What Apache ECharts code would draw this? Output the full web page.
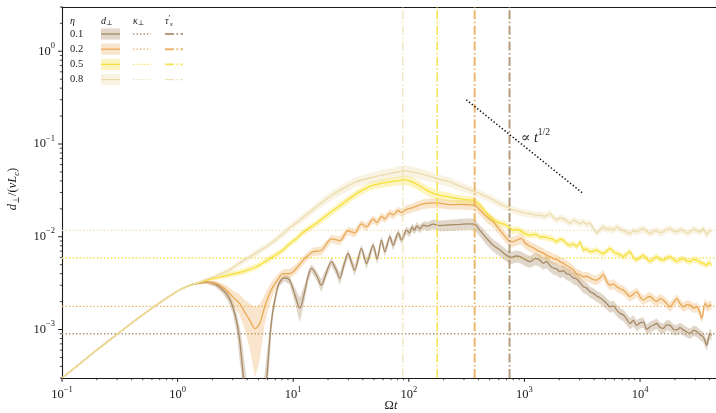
<!DOCTYPE html>
<html>
<head>
<meta charset="utf-8">
<script src="https://cdn.jsdelivr.net/npm/echarts@6/dist/echarts.min.js"></script>
<style>
html, body { margin: 0; padding: 0; background: #fff; }
#chart { width: 716px; height: 413px; }
</style>
</head>
<body>
<div id="chart"></div>
<script>
// Axis ranges (log-log)
const X_MIN = 0.1, X_MAX = 4.54e4, Y_MIN = 3e-4, Y_MAX = 3;

// Tick values
const X_TICKS_MAJOR = [0.1, 1, 10, 100, 1000, 10000];
const Y_TICKS_MAJOR = [1e-4, 1e-3, 1e-2, 1e-1, 1];
const MINOR_STEPS = [2, 3, 4, 5, 6, 7, 8, 9];

// Per-eta constants
const ETA_LABELS = ['0.1', '0.2', '0.5', '0.8'];
const COLORS = ['#a78a66', '#eaa955', '#f6df3a', '#ecdcac'];
const BAND_ALPHA = [0.34, 0.3, 0.32, 0.34];
const KAPPA_PERP = [9.0e-4, 1.78e-3, 5.9e-3, 1.17e-2];
const TAU_S = [743, 371, 176, 88.7];

// Reference slope guide, two end points
const SLOPE_GUIDE = [[314, 0.30], [3160, 0.0298]];

// d_perp/(v L_c) samples: [Omega t, mean, relative spread]
const SHARED_EARLY = [
  [0.1, 3.0e-4, 0.003], [0.15, 4.5e-4, 0.003], [0.2, 6.0e-4, 0.003], [0.3, 8.9e-4, 0.003],
  [0.4, 1.17e-3, 0.003], [0.5, 1.44e-3, 0.004], [0.7, 1.94e-3, 0.005], [1.0, 2.6e-3, 0.008],
  [1.2, 2.9e-3, 0.012], [1.4, 3.1e-3, 0.02]
];

const D_ETA_01 = [
  [1.77, 3.25e-3, .04], [2.1, 3.1e-3, .06], [2.47, 2.66e-3, .09], [2.75, 2.25e-3, .12], [3.0, 1.76e-3, .15],
  [3.25, 1.2e-3, .25], [3.44, 7.7e-4, .4], [3.6, 4.5e-4, .7], [3.75, 2.5e-4, 1], [3.95, 1e-4, 1],
  [4.3, 3e-5, 1], [5.2, 3e-5, 1], [5.6, 1e-4, 1], [5.8, 2.2e-4, 1], [5.93, 3.2e-4, .8],
  [6.1, 5e-4, .5], [6.26, 7.7e-4, .35], [6.5, 1.25e-3, .22], [6.77, 1.76e-3, .15], [7.2, 2.6e-3, .1],
  [7.6, 3.2e-3, .08], [8.4, 3.6e-3, .08], [9.3, 3.4e-3, .1], [10.3, 2.4e-3, .18], [11.4, 1.7e-3, .3],
  [12.6, 2.6e-3, .2], [13.5, 3.8e-3, .13], [14.4, 4.6e-3, .1], [16.0, 3.8e-3, .12], [17.5, 3.0e-3, .16],
  [19.5, 4.2e-3, .12], [21.4, 5.4e-3, .1], [23.5, 4.4e-3, .12], [25.3, 3.55e-3, .15], [27.5, 5.0e-3, .12],
  [29.8, 6.6e-3, .1], [34, 4.37e-3, .14], [38.9, 7.5e-3, .1], [43, 5.15e-3, .13], [49.1, 8.1e-3, .1],
  [53.2, 5.75e-3, .13], [58, 9.2e-3, .1], [62, 6.9e-3, .12], [68.5, 1.0e-2, .1], [73.2, 8.1e-3, .12],
  [80.9, 1.1e-2, .1], [86.5, 9.2e-3, .11], [95.5, 1.18e-2, .1], [101, 1.1e-2, .1], [107, 1.27e-2, .1],
  [112, 1.18e-2, .1], [117, 1.3e-2, .1], [125, 1.22e-2, .1], [133, 1.33e-2, .1], [145, 1.3e-2, .11],
  [162, 1.37e-2, .12], [185, 1.32e-2, .13], [226, 1.34e-2, .14], [277, 1.36e-2, .14], [330, 1.38e-2, .14],
  [370, 1.37e-2, .14], [412, 1.17e-2, .14], [471, 9.6e-3, .15], [537, 8.1e-3, .15], [614, 7.2e-3, .15],
  [701, 6.3e-3, .15], [775, 6.0e-3, .15], [850, 6.2e-3, .15], [915, 6.1e-3, .15], [1010, 5.7e-3, .15],
  [1117, 5.4e-3, .15], [1240, 5.8e-3, .15], [1362, 5.6e-3, .15], [1450, 5.2e-3, .15], [1556, 5.4e-3, .15],
  [1660, 4.9e-3, .15], [1776, 4.6e-3, .15], [1900, 4.5e-3, .15], [2028, 4.2e-3, .15], [2170, 4.3e-3, .15],
  [2318, 4.0e-3, .15], [2480, 3.9e-3, .15], [2646, 3.6e-3, .15], [2830, 3.5e-3, .15], [3025, 3.2e-3, .15],
  [3228, 2.9e-3, .15], [3450, 2.8e-3, .15], [3690, 2.55e-3, .14], [3950, 2.45e-3, .14], [4217, 2.3e-3, .14],
  [4500, 2.2e-3, .14], [4811, 2.07e-3, .14], [5150, 1.9e-3, .14], [5500, 1.76e-3, .14], [5870, 1.8e-3, .14],
  [6280, 1.62e-3, .14], [6700, 1.5e-3, .14], [7170, 1.43e-3, .14], [7650, 1.3e-3, .14], [8180, 1.16e-3, .14],
  [8750, 1.25e-3, .14], [9360, 1.11e-3, .14], [10000, 1.18e-3, .13], [10700, 1.2e-3, .13], [11400, 1.0e-3, .13],
  [12200, 1.07e-3, .13], [13100, 1.12e-3, .13], [13960, 1.16e-3, .13], [14900, 1.05e-3, .13], [15900, 1.03e-3, .13],
  [17000, 1.12e-3, .13], [18200, 1.11e-3, .13], [19500, 1.0e-3, .13], [20800, 9.9e-4, .13], [22200, 1.05e-3, .13],
  [23700, 9.9e-4, .13], [25400, 9.4e-4, .13], [27100, 9.1e-4, .13], [29000, 9.8e-4, .13], [31000, 9.5e-4, .13],
  [33100, 8.8e-4, .13], [35300, 8.3e-4, .13], [37800, 6.8e-4, .14], [39000, 8.0e-4, .13], [40300, 9.1e-4, .13],
  [41500, 8.6e-4, .13]
];

const D_ETA_02 = [
  [1.77, 3.25e-3, .04], [2.2, 3.1e-3, .07], [2.64, 2.66e-3, .12], [3.0, 2.25e-3, .18], [3.44, 1.91e-3, .25],
  [3.8, 1.55e-3, .35], [4.2, 1.26e-3, .5], [4.67, 1.02e-3, .7], [5.13, 1.16e-3, .6], [5.67, 1.76e-3, .35],
  [6.2, 2.4e-3, .25], [6.7, 2.9e-3, .18], [7.4, 3.5e-3, .14], [8.17, 4.0e-3, .12], [9.3, 4.0e-3, .12],
  [10.7, 4.6e-3, .12], [12.2, 5.6e-3, .11], [13.5, 6.3e-3, .1], [14.8, 6.9e-3, .1], [17.5, 7.1e-3, .11],
  [21.4, 9.5e-3, .1], [25.3, 9.1e-3, .11], [29.8, 1.16e-2, .1], [34, 1.1e-2, .11], [38.9, 1.38e-2, .1],
  [43, 1.28e-2, .1], [49.1, 1.55e-2, .1], [53.2, 1.42e-2, .1], [58, 1.66e-2, .1], [62, 1.56e-2, .1],
  [68.5, 1.8e-2, .1], [73.2, 1.72e-2, .1], [80.9, 1.92e-2, .1], [86.5, 1.83e-2, .1], [95.5, 1.97e-2, .11],
  [107, 2.05e-2, .11], [117, 2.14e-2, .12], [133, 2.26e-2, .12], [162, 2.32e-2, .12], [185, 2.3e-2, .12],
  [226, 2.22e-2, .12], [277, 2.23e-2, .12], [330, 2.21e-2, .12], [370, 2.18e-2, .12], [412, 1.94e-2, .12],
  [471, 1.64e-2, .13], [537, 1.45e-2, .13], [614, 1.18e-2, .13], [701, 9.6e-3, .13], [775, 8.8e-3, .13],
  [860, 9.2e-3, .13], [940, 9.6e-3, .13], [1020, 8.5e-3, .13], [1117, 7.9e-3, .13], [1215, 7.5e-3, .13],
  [1362, 6.9e-3, .13], [1450, 6.7e-3, .13], [1556, 6.3e-3, .13], [1660, 6.1e-3, .13], [1776, 5.8e-3, .13],
  [1900, 5.7e-3, .13], [2028, 5.4e-3, .13], [2170, 5.2e-3, .13], [2318, 4.9e-3, .13], [2477, 4.67e-3, .13],
  [2646, 4.4e-3, .12], [2830, 4.0e-3, .12], [3025, 3.9e-3, .12], [3228, 3.7e-3, .12], [3450, 3.75e-3, .12],
  [3690, 3.6e-3, .12], [3950, 3.45e-3, .12], [4217, 3.4e-3, .12], [4500, 3.6e-3, .12], [4811, 3.9e-3, .12],
  [5150, 3.3e-3, .12], [5500, 3.0e-3, .12], [5870, 3.1e-3, .12], [6280, 2.9e-3, .12], [6700, 2.75e-3, .12],
  [7170, 2.66e-3, .12], [7650, 2.45e-3, .12], [8180, 2.27e-3, .12], [8750, 2.4e-3, .12], [9360, 2.55e-3, .12],
  [10000, 2.25e-3, .12], [10700, 2.07e-3, .12], [11400, 2.2e-3, .12], [12200, 2.27e-3, .12], [13100, 2.1e-3, .12],
  [13960, 2.0e-3, .12], [14900, 2.15e-3, .12], [15900, 2.07e-3, .12], [17000, 1.9e-3, .12], [18200, 1.76e-3, .12],
  [19500, 1.95e-3, .12], [20800, 2.15e-3, .12], [22200, 1.9e-3, .12], [23700, 1.76e-3, .12], [25400, 1.85e-3, .12],
  [27100, 1.84e-3, .12], [29000, 1.7e-3, .12], [31000, 1.76e-3, .12], [32500, 1.6e-3, .12], [34200, 1.32e-3, .12],
  [36500, 1.91e-3, .12], [38500, 1.75e-3, .12], [40300, 1.84e-3, .12], [41500, 1.8e-3, .12]
];

const D_ETA_05 = [
  [1.7, 3.35e-3, .03], [2.16, 3.6e-3, .05], [2.82, 3.9e-3, .07], [3.68, 4.2e-3, .08], [4.8, 4.75e-3, .08],
  [6.26, 5.8e-3, .08], [8.17, 7.2e-3, .08], [9.3, 8.4e-3, .08], [10.7, 9.6e-3, .08], [12.2, 1.12e-2, .08],
  [15.9, 1.4e-2, .09], [20.7, 1.8e-2, .09], [27, 2.29e-2, .1], [35.3, 2.92e-2, .1], [40, 3.2e-2, .1],
  [45.9, 3.5e-2, .1], [52, 3.65e-2, .1], [59.9, 3.8e-2, .11], [68, 3.9e-2, .11], [78.1, 4.0e-2, .11],
  [92.2, 4.1e-2, .12], [104, 3.95e-2, .12], [116, 3.7e-2, .12], [133, 3.35e-2, .12], [152, 3.05e-2, .12],
  [185, 2.8e-2, .11], [226, 2.68e-2, .11], [270, 2.57e-2, .1], [316, 2.5e-2, .1], [360, 2.49e-2, .1],
  [412, 2.2e-2, .1], [471, 1.78e-2, .1], [537, 1.52e-2, .09], [614, 1.4e-2, .09], [701, 1.33e-2, .09],
  [800, 1.17e-2, .09], [860, 1.2e-2, .09], [915, 1.17e-2, .09], [1010, 1.08e-2, .09], [1117, 1.04e-2, .08],
  [1240, 1.06e-2, .08], [1362, 1.0e-2, .08], [1500, 9.9e-3, .08], [1663, 9.6e-3, .08], [1780, 9.3e-3, .08],
  [1900, 8.8e-3, .08], [2030, 9.4e-3, .08], [2168, 9.2e-3, .08], [2320, 8.4e-3, .08], [2477, 8.1e-3, .08],
  [2650, 8.4e-3, .08], [2830, 7.8e-3, .08], [3025, 8.8e-3, .08], [3228, 7.2e-3, .08], [3450, 7.4e-3, .08],
  [3690, 6.9e-3, .08], [3950, 7.0e-3, .08], [4217, 7.2e-3, .08], [4500, 6.8e-3, .08], [4811, 6.6e-3, .08],
  [5150, 7.0e-3, .08], [5500, 7.5e-3, .08], [5870, 6.9e-3, .08], [6280, 6.6e-3, .08], [6700, 6.4e-3, .08],
  [7170, 6.1e-3, .08], [7650, 6.5e-3, .08], [8180, 6.9e-3, .08], [8750, 6.0e-3, .08], [9360, 5.6e-3, .08],
  [10000, 6.0e-3, .08], [10700, 6.3e-3, .08], [11400, 5.8e-3, .08], [12200, 5.4e-3, .08], [13100, 5.8e-3, .08],
  [13960, 6.1e-3, .08], [14900, 5.7e-3, .08], [15900, 5.6e-3, .08], [17000, 5.9e-3, .08], [18200, 6.1e-3, .08],
  [19500, 5.7e-3, .08], [20800, 5.4e-3, .08], [22200, 5.7e-3, .08], [23700, 5.8e-3, .08], [25400, 5.5e-3, .08],
  [27100, 5.4e-3, .08], [29000, 5.7e-3, .08], [31000, 5.6e-3, .08], [33100, 5.3e-3, .08], [35300, 5.15e-3, .08],
  [37800, 4.9e-3, .08], [39000, 5.3e-3, .08], [40300, 5.15e-3, .08], [41500, 5.0e-3, .08]
];

const D_ETA_08 = [
  [1.7, 3.4e-3, .03], [2.16, 3.8e-3, .05], [2.82, 4.4e-3, .07], [3.68, 5.5e-3, .08], [4.8, 6.7e-3, .08],
  [6.26, 8.3e-3, .08], [8.17, 1.08e-2, .09], [9.3, 1.25e-2, .09], [10.7, 1.42e-2, .09], [12.2, 1.62e-2, .1],
  [15.9, 2.1e-2, .1], [20.7, 2.7e-2, .11], [27, 3.3e-2, .12], [35.3, 3.93e-2, .12], [45.9, 4.3e-2, .13],
  [59.9, 4.64e-2, .14], [78.1, 4.96e-2, .14], [92.2, 5.17e-2, .15], [104, 5.05e-2, .15], [116, 4.9e-2, .14],
  [133, 4.7e-2, .14], [152, 4.5e-2, .13], [185, 4.15e-2, .12], [226, 3.9e-2, .12], [270, 3.55e-2, .11],
  [316, 3.3e-2, .1], [360, 3.1e-2, .1], [412, 2.92e-2, .1], [471, 2.7e-2, .1], [537, 2.49e-2, .1],
  [614, 2.28e-2, .1], [701, 2.1e-2, .1], [800, 1.95e-2, .09], [915, 1.85e-2, .09], [1010, 1.8e-2, .09],
  [1117, 1.78e-2, .09], [1240, 1.72e-2, .09], [1362, 1.71e-2, .09], [1500, 1.66e-2, .09], [1663, 1.78e-2, .09],
  [1780, 1.62e-2, .09], [1900, 1.52e-2, .09], [2030, 1.6e-2, .09], [2168, 1.57e-2, .09], [2320, 1.48e-2, .09],
  [2477, 1.4e-2, .09], [2650, 1.5e-2, .09], [2830, 1.45e-2, .09], [3025, 1.38e-2, .09], [3228, 1.45e-2, .09],
  [3450, 1.36e-2, .09], [3690, 1.4e-2, .09], [3950, 1.22e-2, .09], [4217, 1.1e-2, .09], [4500, 1.2e-2, .09],
  [4811, 1.28e-2, .09], [5150, 1.2e-2, .09], [5500, 1.23e-2, .09], [5870, 1.18e-2, .09], [6280, 1.28e-2, .09],
  [6700, 1.21e-2, .09], [7170, 1.17e-2, .09], [7650, 1.12e-2, .09], [8180, 1.08e-2, .09], [8750, 1.16e-2, .09],
  [9360, 1.13e-2, .09], [10000, 1.18e-2, .09], [10700, 1.23e-2, .09], [11400, 1.15e-2, .09], [12200, 1.08e-2, .09],
  [13100, 1.14e-2, .09], [13960, 1.17e-2, .09], [14900, 1.1e-2, .09], [15900, 1.13e-2, .09], [17000, 1.19e-2, .09],
  [18200, 1.23e-2, .09], [19500, 1.15e-2, .09], [20800, 1.13e-2, .09], [22200, 1.19e-2, .09], [23700, 1.17e-2, .09],
  [25400, 1.1e-2, .09], [27100, 1.13e-2, .09], [29000, 1.2e-2, .09], [31000, 1.17e-2, .09], [33100, 1.12e-2, .09],
  [35300, 1.23e-2, .09], [37800, 1.04e-2, .09], [39000, 1.12e-2, .09], [40300, 1.17e-2, .09], [41500, 1.14e-2, .09]
];

const RUNS = [D_ETA_01, D_ETA_02, D_ETA_05, D_ETA_08].map(d => SHARED_EARLY.concat(d));
const LINE_SMOOTH = [0.3, 0.3, 0.15, 0.15];

const SERIF = '"Liberation Serif", "DejaVu Serif", serif';
const INK = '#1a1a1a';

function hexToRgba(hex, a) {
  const n = parseInt(hex.slice(1), 16);
  return 'rgba(' + ((n >> 16) & 255) + ',' + ((n >> 8) & 255) + ',' + (n & 255) + ',' + a + ')';
}

function isPow10(v) {
  const l = Math.log10(v);
  return Math.abs(l - Math.round(l)) < 1e-6;
}

function powLabel(v) {
  if (!isPow10(v)) return '';
  const e = Math.round(Math.log10(v));
  return '{b|10}{s|' + (e < 0 ? '\u2212' + (-e) : e) + '}';
}

const powRich = {
  b: { fontFamily: SERIF, fontSize: 12.5, color: INK, lineHeight: 20 },
  s: { fontFamily: SERIF, fontSize: 8.5, color: INK, lineHeight: 9, verticalAlign: 'top' }
};

// Tick positions (major + 2..9 minors) within axis ranges
function tickList(majors, lo, hi) {
  const out = [];
  majors.forEach(m => {
    if (m >= lo * 0.999 && m <= hi * 1.001) out.push([m, true]);
    MINOR_STEPS.forEach(k => {
      const v = m * k;
      if (v >= lo && v <= hi) out.push([v, false]);
    });
  });
  return out;
}
const xTicks = tickList(X_TICKS_MAJOR, X_MIN, X_MAX);
const yTicks = tickList(Y_TICKS_MAJOR, Y_MIN, Y_MAX);

function bandSeries(points, color, alpha) {
  return {
    type: 'custom',
    coordinateSystem: 'cartesian2d',
    clip: true,
    silent: true,
    z: 2,
    data: points.map(p => [p[0], p[1]]),
    renderItem: function (params, api) {
      if (params.dataIndex !== 0) return null;
      const upper = [], lower = [];
      points.forEach(p => {
        const hi = Math.min(p[1] * (1 + p[2]), Y_MAX);
        const lo = Math.min(Math.max(p[1] * (1 - p[2]), Y_MIN), Y_MAX);
        upper.push(api.coord([p[0], Math.max(hi, Y_MIN)]));
        lower.push(api.coord([p[0], lo]));
      });
      return {
        type: 'polygon',
        shape: { points: upper.concat(lower.reverse()) },
        style: { fill: hexToRgba(color, alpha), stroke: null }
      };
    }
  };
}

const series = [];

// kappa_perp levels: dotted horizontals across the full time range
KAPPA_PERP.forEach((k, i) => {
  series.push({
    type: 'line',
    data: [[X_MIN, k], [X_MAX, k]],
    showSymbol: false, symbol: 'none', silent: true, z: 1,
    lineStyle: { color: COLORS[i], width: 1.3, type: [1.3, 2.2] }
  });
});

RUNS.forEach((run, i) => {
  series.push(bandSeries(run, COLORS[i], BAND_ALPHA[i]));
  series.push({
    type: 'line',
    data: run.map(p => [p[0], p[1]]),
    showSymbol: false,
    symbol: 'none',
    smooth: LINE_SMOOTH[i],
    clip: true,
    silent: true,
    z: 3,
    lineStyle: { color: COLORS[i], width: 1.3 }
  });
});

// tau_s' markers: dash-dot verticals
const vWidths = [2, 2, 1.6, 1.2];
TAU_S.forEach((t, i) => {
  series.push({
    type: 'line',
    data: [[t, Y_MIN], [t, Y_MAX]],
    showSymbol: false, symbol: 'none', silent: true, z: 4,
    lineStyle: { color: COLORS[i], width: vWidths[i], type: [9, 2.5, 1.6, 2.5], opacity: 0.85 }
  });
});

// t^{1/2} guide
series.push({
  type: 'line',
  data: SLOPE_GUIDE,
  showSymbol: false,
  symbol: 'none',
  silent: true,
  z: 5,
  lineStyle: { color: '#111', width: 1.5, type: [1.4, 2.1] }
});

// Log-axis ticks, outward
series.push({
  type: 'custom',
  coordinateSystem: 'cartesian2d',
  silent: true,
  clip: false,
  z: 6,
  data: xTicks.map(t => [t[0], Y_MIN, t[1] ? 1 : 0]),
  renderItem: function (params, api) {
    const p = api.coord([api.value(0), Y_MIN]);
    const major = api.value(2) === 1;
    return {
      type: 'line',
      shape: { x1: p[0], y1: p[1], x2: p[0], y2: p[1] + (major ? 3.8 : 2.2) },
      style: { stroke: INK, lineWidth: major ? 1 : 0.8 }
    };
  }
});
series.push({
  type: 'custom',
  coordinateSystem: 'cartesian2d',
  silent: true,
  clip: false,
  z: 6,
  data: yTicks.map(t => [X_MIN, t[0], t[1] ? 1 : 0]),
  renderItem: function (params, api) {
    const p = api.coord([X_MIN, api.value(1)]);
    const major = api.value(2) === 1;
    return {
      type: 'line',
      shape: { x1: p[0], y1: p[1], x2: p[0] - (major ? 3.8 : 2.2), y2: p[1] },
      style: { stroke: INK, lineWidth: major ? 1 : 0.8 }
    };
  }
});

// Legend table drawn as graphics
const legendEls = [];
const headerY = 21;
const rowY0 = 34, rowDy = 15.2;
legendEls.push({ type: 'text', x: 70, y: headerY, style: { text: 'η', fontFamily: SERIF, fontSize: 10, fontStyle: 'italic', fill: INK, verticalAlign: 'middle' } });
legendEls.push({ type: 'text', x: 101, y: headerY, style: {
  text: '{i|d}{u|⊥}', verticalAlign: 'middle',
  rich: { i: { fontFamily: SERIF, fontSize: 10, fontStyle: 'italic', fill: INK, lineHeight: 12 },
          u: { fontFamily: SERIF, fontSize: 7, fill: INK, lineHeight: 7, verticalAlign: 'bottom' } } } });
legendEls.push({ type: 'text', x: 133, y: headerY, style: {
  text: '{i|κ}{u|⊥}', verticalAlign: 'middle',
  rich: { i: { fontFamily: SERIF, fontSize: 10, fontStyle: 'italic', fill: INK, lineHeight: 12 },
          u: { fontFamily: SERIF, fontSize: 7, fill: INK, lineHeight: 7, verticalAlign: 'bottom' } } } });
legendEls.push({ type: 'text', x: 165, y: headerY, style: {
  text: '{i|τ}{p|′}', verticalAlign: 'middle',
  rich: { i: { fontFamily: SERIF, fontSize: 10, fontStyle: 'italic', fill: INK, lineHeight: 12 },
          p: { fontFamily: SERIF, fontSize: 8, fill: INK, lineHeight: 8, verticalAlign: 'top' } } } });
legendEls.push({ type: 'text', x: 170, y: headerY + 3, style: { text: 's', fontFamily: SERIF, fontSize: 7, fontStyle: 'italic', fill: INK, verticalAlign: 'middle' } });
ETA_LABELS.forEach((lab, i) => {
  const y = rowY0 + i * rowDy;
  legendEls.push({ type: 'text', x: 70, y: y, style: { text: lab, fontFamily: SERIF, fontSize: 10.5, fill: INK, verticalAlign: 'middle' } });
  legendEls.push({ type: 'rect', shape: { x: 101, y: y - 5.6, width: 19, height: 11.2 }, style: { fill: hexToRgba(COLORS[i], BAND_ALPHA[i]) } });
  legendEls.push({ type: 'line', shape: { x1: 101, y1: y, x2: 120, y2: y }, style: { stroke: COLORS[i], lineWidth: 1.3 } });
  legendEls.push({ type: 'line', shape: { x1: 133, y1: y, x2: 151, y2: y }, style: { stroke: COLORS[i], lineWidth: 1.3, lineDash: [1.3, 2.2] } });
  legendEls.push({ type: 'line', shape: { x1: 165, y1: y, x2: 183, y2: y }, style: { stroke: COLORS[i], lineWidth: vWidths[i], lineDash: [9, 2.5, 1.6, 2.5], opacity: 0.85 } });
});

// Axis titles and guide annotation
const annotEls = [
  { type: 'text', x: 13, y: 189, rotation: Math.PI / 2, style: {
      text: '{i|d}{u|⊥}{r|/(}{i|vL}{ui|c}{r|)}', align: 'center', verticalAlign: 'middle',
      rich: {
        i: { fontFamily: SERIF, fontSize: 12.5, fontStyle: 'italic', fill: INK, lineHeight: 17 },
        r: { fontFamily: SERIF, fontSize: 12.5, fill: INK, lineHeight: 17 },
        u: { fontFamily: SERIF, fontSize: 8.5, fill: INK, lineHeight: 8, verticalAlign: 'bottom' },
        ui: { fontFamily: SERIF, fontSize: 8.5, fontStyle: 'italic', fill: INK, lineHeight: 8, verticalAlign: 'bottom' }
      } } },
  { type: 'text', x: 391, y: 406, style: {
      text: '{r|Ω}{i|t}', align: 'center', verticalAlign: 'middle',
      rich: {
        r: { fontFamily: SERIF, fontSize: 12.5, fill: INK },
        i: { fontFamily: SERIF, fontSize: 12.5, fontStyle: 'italic', fill: INK }
      } } },
  { type: 'text', x: 521, y: 138, style: {
      text: '{r|∝ }{i|t}{s|1/2}', align: 'left', verticalAlign: 'middle',
      rich: {
        r: { fontFamily: SERIF, fontSize: 14, fill: INK, lineHeight: 21 },
        i: { fontFamily: SERIF, fontSize: 14, fontStyle: 'italic', fill: INK, lineHeight: 21 },
        s: { fontFamily: SERIF, fontSize: 9.5, fill: INK, lineHeight: 10, verticalAlign: 'top' }
      } } }
];

const chart = echarts.init(document.getElementById('chart'), null, { renderer: 'canvas' });
chart.setOption({
  animation: false,
  backgroundColor: '#fff',
  grid: { left: 62, right: 0, top: 7, bottom: 35, containLabel: false },
  xAxis: [{
    type: 'log', min: X_MIN, max: X_MAX, logBase: 10,
    axisLine: { show: true, onZero: false, lineStyle: { color: INK, width: 1.1 } },
    axisTick: { show: false },
    splitLine: { show: false },
    axisLabel: { margin: 7, formatter: powLabel, rich: powRich, showMinLabel: true, showMaxLabel: false, hideOverlap: false }
  }, {
    type: 'log', min: X_MIN, max: X_MAX, position: 'top',
    axisLine: { show: true, onZero: false, lineStyle: { color: INK, width: 1.1 } },
    axisTick: { show: false }, axisLabel: { show: false }, splitLine: { show: false }
  }],
  yAxis: {
    type: 'log', min: Y_MIN, max: Y_MAX, logBase: 10,
    axisLine: { show: true, onZero: false, lineStyle: { color: INK, width: 1.1 } },
    axisTick: { show: false },
    splitLine: { show: false },
    axisLabel: { margin: 7, formatter: powLabel, rich: powRich, showMinLabel: false, showMaxLabel: false }
  },
  series: series,
  graphic: { elements: legendEls.concat(annotEls) }
});
</script>
</body>
</html>
